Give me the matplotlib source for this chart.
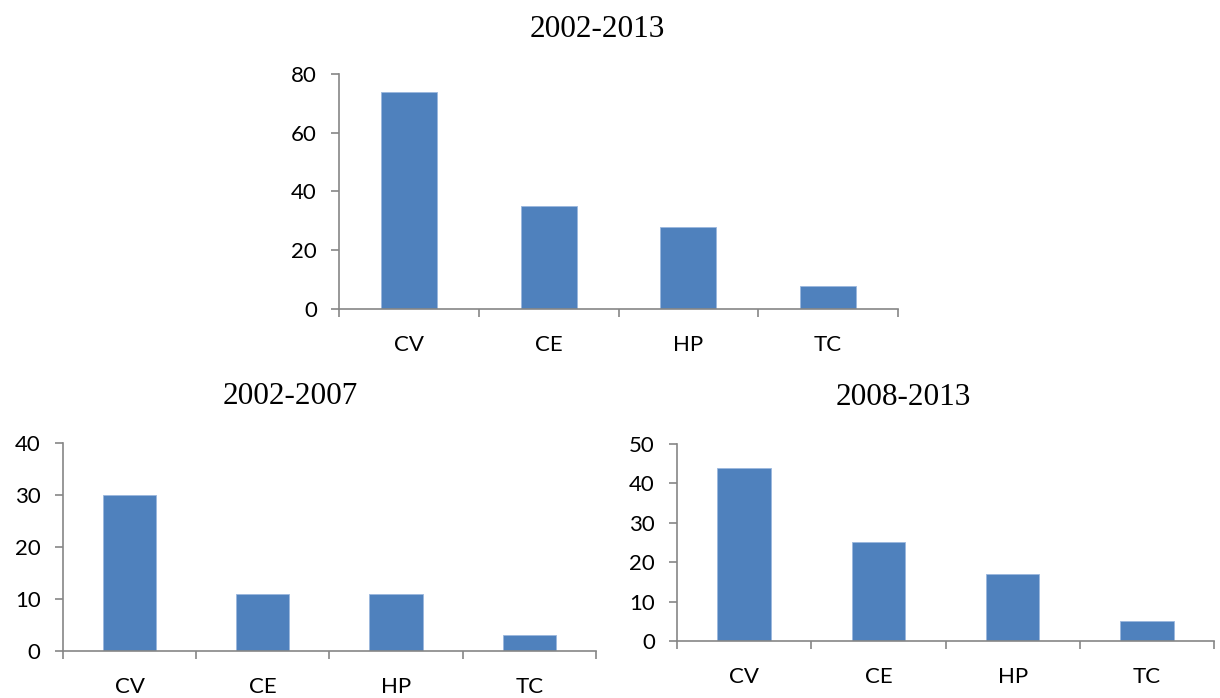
import numpy as np
import matplotlib.pyplot as plt

categories = ['CV', 'CE', 'HP', 'TC']
vals_all = [74, 35, 28, 8]
vals_early = [30, 11, 11, 3]
vals_late = [44, 25, 17, 5]

bar_color = '#4F81BD'
axis_color = '#868686'

fig = plt.figure(figsize=(12.2, 6.98), dpi=100)


def draw_panel(rect, values, ymax, ystep):
    ax = fig.add_axes(rect)
    x = np.arange(len(values))
    ax.bar(x, values, width=0.4, color=bar_color, edgecolor='#9BB7DD', linewidth=0.6)
    ax.set_xlim(-0.5, len(values) - 0.5)
    ax.set_ylim(0, ymax)
    ax.set_yticks(np.arange(0, ymax + 1, ystep))
    ax.set_xticks(x)
    ax.set_xticklabels(categories)
    # category separators as minor ticks
    ax.set_xticks(np.arange(-0.5, len(values)), minor=True)
    ax.tick_params(axis='x', which='major', length=0, pad=19)
    ax.tick_params(axis='x', which='minor', length=6, color=axis_color, width=1.2)
    ax.tick_params(axis='y', length=6, color=axis_color, width=1.2, pad=10)
    for lbl in ax.get_xticklabels() + ax.get_yticklabels():
        lbl.set_fontfamily('Lato')
        lbl.set_fontsize(16)
    for s in ['top', 'right']:
        ax.spines[s].set_visible(False)
    for s in ['left', 'bottom']:
        ax.spines[s].set_color(axis_color)
        ax.spines[s].set_linewidth(1.2)
    return ax


draw_panel([0.2779, 0.5573, 0.4582, 0.3367], vals_all, 80, 20)
draw_panel([0.0516, 0.0673, 0.4369, 0.2980], vals_early, 40, 10)
draw_panel([0.5549, 0.0817, 0.4402, 0.2822], vals_late, 50, 10)

title_kw = dict(family='Liberation Serif', fontsize=22.5, ha='center', va='baseline')
fig.text(597 / 1220, 1 - 37 / 698, '2002-2013', **title_kw)
fig.text(290 / 1220, 1 - 404 / 698, '2002-2007', **title_kw)
fig.text(903 / 1220, 1 - 405 / 698, '2008-2013', **title_kw)

fig.savefig('out.png', dpi=100)
